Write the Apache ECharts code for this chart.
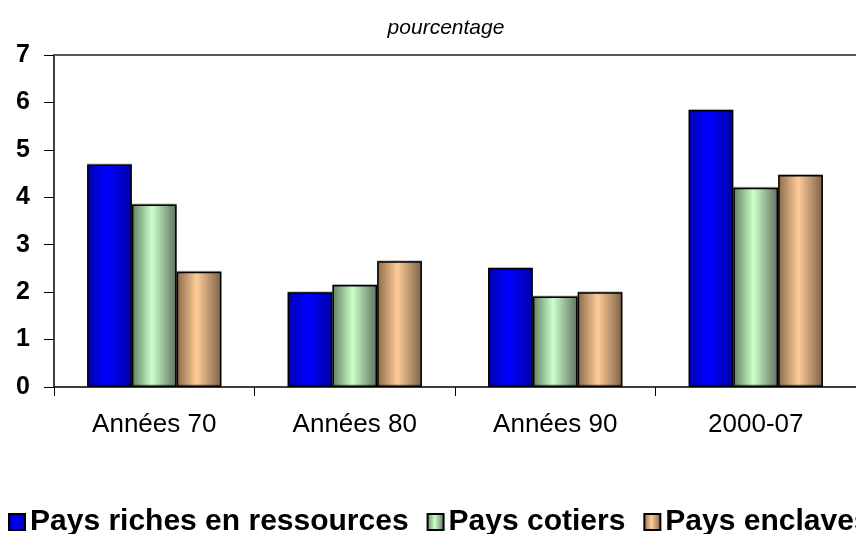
<!DOCTYPE html>
<html>
<head>
<meta charset="utf-8">
<script src="https://cdn.jsdelivr.net/npm/echarts@6/dist/echarts.min.js"></script>
<style>html,body{margin:0;padding:0;background:#fff;}#c{width:856px;height:534px;}</style>
</head>
<body>
<div id="c"></div>
<script>
var categories = ['Années 70', 'Années 80', 'Années 90', '2000-07'];
var seriesNames = ['Pays riches en ressources', 'Pays cotiers', 'Pays enclaves'];
var richValues = [4.69, 2.0, 2.51, 5.84];
var cotierValues = [3.85, 2.15, 1.91, 4.20];
var enclaveValues = [2.43, 2.65, 2.0, 4.47];
var yTicks = [0, 1, 2, 3, 4, 5, 6, 7];
var subtitle = 'pourcentage';

function grad(edge, mid, edge2) {
  return new echarts.graphic.LinearGradient(0, 0, 1, 0, [
    {offset: 0, color: edge},
    {offset: 0.45, color: mid},
    {offset: 1, color: edge2}
  ]);
}
var fills = [
  grad('#0000b0', '#0000ff', '#0000a8'),
  grad('#5f7f5f', '#ccffcc', '#5e705e'),
  grad('#8a6a48', '#ffcc99', '#7a6046')
];
var values = [richValues, cotierValues, enclaveValues];
var font = "'Liberation Sans', Arial, sans-serif";

var chart = echarts.init(document.getElementById('c'), null, {renderer: 'canvas'});
chart.setOption({
  animation: false,
  backgroundColor: '#ffffff',
  title: {
    text: subtitle,
    left: 441,
    textAlign: 'center',
    top: 13,
    textStyle: {fontFamily: font, fontStyle: 'italic', fontWeight: 'normal', fontSize: 21, color: '#000'}
  },
  legend: {
    left: 3,
    bottom: -8,
    width: 1200,
    itemGap: 18,
    itemWidth: 16,
    itemHeight: 16,
    icon: 'rect',
    textStyle: {fontFamily: font, fontWeight: 'bold', fontSize: 30, color: '#000'},
    data: seriesNames
  },
  grid: {left: 54, right: -6, top: 55, bottom: 147, containLabel: false},
  xAxis: [{
    type: 'category',
    data: categories,
    boundaryGap: true,
    axisLine: {lineStyle: {color: '#000', width: 1.5}},
    axisTick: {show: true, length: 9, inside: false, lineStyle: {color: '#000', width: 1}},
    axisLabel: {fontFamily: font, fontSize: 26, color: '#000', margin: 25}
  }, {
    type: 'category',
    data: categories,
    position: 'top',
    axisLine: {show: true, lineStyle: {color: '#555', width: 2}},
    axisTick: {show: false},
    axisLabel: {show: false}
  }],
  yAxis: {
    type: 'value',
    min: yTicks[0],
    max: yTicks[yTicks.length - 1],
    interval: 1,
    axisLine: {show: true, lineStyle: {color: '#000', width: 1.5}},
    axisTick: {show: true, length: 10, lineStyle: {color: '#000', width: 1}},
    splitLine: {show: false},
    axisLabel: {fontFamily: font, fontWeight: 'bold', fontSize: 25, color: '#000', margin: 24}
  },
  series: seriesNames.map(function (name, i) {
    return {
      name: name,
      type: 'bar',
      data: values[i],
      barGap: '0%',
      barCategoryGap: '33%',
      itemStyle: {color: fills[i], borderColor: '#000', borderWidth: 1.5,
        shadowColor: 'rgba(0,0,0,0.25)', shadowBlur: 0, shadowOffsetX: 0, shadowOffsetY: -1}
    };
  })
});
</script>
</body>
</html>
